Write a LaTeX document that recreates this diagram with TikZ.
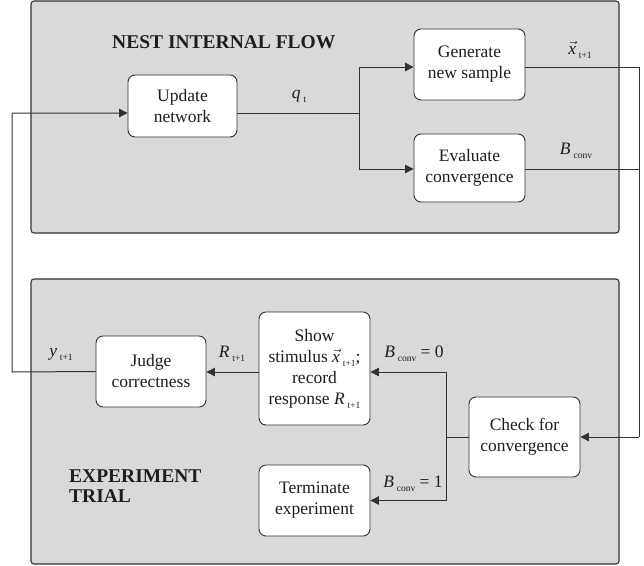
\documentclass[tikz,border=0pt]{standalone}
\usepackage{fontspec}
\setmainfont{Liberation Serif}
\usepackage{tikz}
\usetikzlibrary{positioning, arrows.meta, calc}

\definecolor{panelgray}{RGB}{217,217,217}
\definecolor{edgegray}{RGB}{50,50,50}
\definecolor{inkgray}{RGB}{30,30,30}

% lowered small subscript, as in the figure
\newcommand{\lowsub}[1]{\,\raisebox{-4pt}{\fontsize{9.5}{10}\selectfont #1}}
\newcommand{\vecx}{$\vec{\textit{x}}$}

\tikzset{
    panel/.style={draw=edgegray, fill=panelgray, line width=1.1pt, rounded corners=3pt},
    flowbox/.style={draw=edgegray, fill=white, line width=0.9pt, rounded corners=7pt,
        align=center, text=inkgray, inner sep=0pt,
        font=\fontsize{17.5}{21}\selectfont},
    heading/.style={text=inkgray, align=left, inner sep=0pt,
        font=\fontsize{19.5}{20}\selectfont\bfseries},
    lbl/.style={text=inkgray, inner sep=0pt, font=\fontsize{17.5}{20}\selectfont},
    link/.style={draw=edgegray, line width=1pt},
    tip/.style={-{Triangle[length=8.5pt, width=8.5pt]}}
}

\begin{document}
\begin{tikzpicture}[x=1pt, y=-1pt]
    \useasboundingbox (0,0) rectangle (644,565);

    % panels
    \draw[panel] (31,1) rectangle (619,233);
    \draw[panel] (31,279) rectangle (619,564);

    \node[heading, anchor=west] (nesttitle) at (112,42) {NEST INTERNAL FLOW};
    \node[heading, anchor=west] (exptitle) at (69,486) {EXPERIMENT\\TRIAL};

    % boxes
    \node[flowbox, minimum width=109pt, minimum height=62pt] (upd) at (182.5,106) {Update\\network};
    \node[flowbox, minimum width=111pt, minimum height=71pt] (gen) at (469.5,64.5) {Generate\\new sample};
    \node[flowbox, minimum width=111pt, minimum height=68pt] (eva) at (469.5,168) {Evaluate\\convergence};
    \node[flowbox, minimum width=110pt, minimum height=71pt] (jdg) at (151,371.5) {Judge\\correctness};
    \node[flowbox, minimum width=111pt, minimum height=113pt] (show) at (314.5,368.5)
        {Show\\stimulus \vecx\lowsub{t+1};\\record\\response \textit{R}\lowsub{t+1}};
    \node[flowbox, minimum width=111pt, minimum height=71pt] (term) at (314.5,500.5) {Terminate\\experiment};
    \node[flowbox, minimum width=111pt, minimum height=80pt] (chk) at (524.5,437) {Check for\\convergence};

    % turning points
    \coordinate (split) at (359,113);
    \coordinate (rturn) at (639,437);
    \coordinate (lturn) at (12,372);
    \coordinate (fork) at (446,437);

    % nest flow
    \draw[link] ([yshift=-7pt]upd.east) -- (split);
    \draw[link, tip] (split) |- ([yshift=-2.5pt]gen.west);
    \draw[link, tip] (split) |- ([yshift=-1pt]eva.west);
    \draw[link] ([yshift=-2.5pt]gen.east) -| (rturn);
    \draw[link] ([yshift=-1pt]eva.east) -- ([yshift=-1pt]eva.east -| rturn);
    \draw[link, tip] (rturn) -- (chk.east);

    % trial flow
    \draw[link] (chk.west) -- (fork);
    \draw[link, tip] (fork) |- ([yshift=-3.5pt]show.west -| show.east);
    \draw[link, tip] (fork) |- (term.east);
    \draw[link, tip] ([yshift=-3.5pt]show.west) -- ([yshift=-3.5pt]show.west -| jdg.east);
    \draw[link, tip] (jdg.west) -- (lturn) |- ([yshift=-7pt]upd.west);

    % labels
    \node[lbl] (lq) at (299,96) {\textit{q}\lowsub{t}};
    \node[lbl] (lx) at (580,50) {\vecx\lowsub{t+1}};
    \node[lbl] (lb) at (576,151) {\textit{B}\lowsub{conv}};
    \node[lbl] (ly) at (61,355) {\textit{y}\lowsub{t+1}};
    \node[lbl] (lr) at (232,354) {\textit{R}\lowsub{t+1}};
    \node[lbl] (lb0) at (414,354) {\textit{B}\lowsub{conv} = 0};
    \node[lbl] (lb1) at (413,484) {\textit{B}\lowsub{conv} = 1};
\end{tikzpicture}
\end{document}
